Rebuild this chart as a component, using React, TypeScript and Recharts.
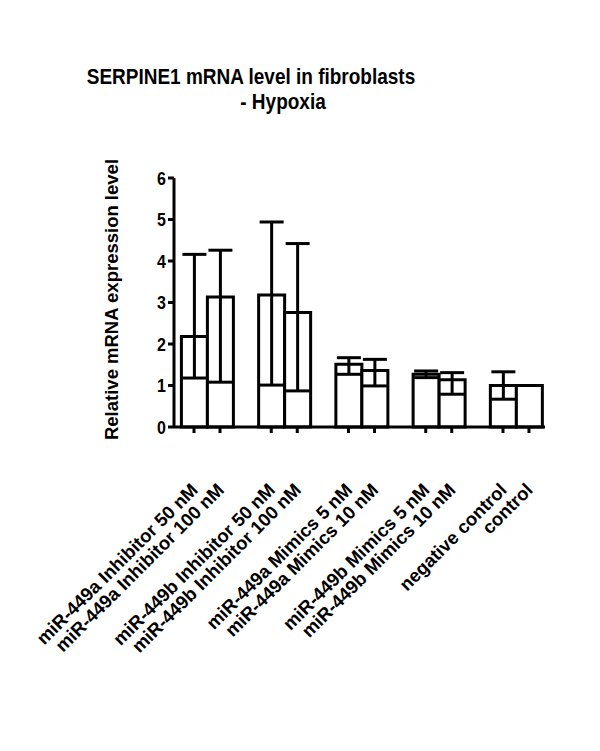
import { BarChart, Bar, XAxis, YAxis, ErrorBar } from 'recharts';

const FONT = '"Liberation Sans", Arial, Helvetica, sans-serif';

const labels = [
  'miR-449a Inhibitor 50 nM',
  'miR-449a Inhibitor 100 nM',
  'miR-449b Inhibitor 50 nM',
  'miR-449b Inhibitor 100 nM',
  'miR-449a Mimics 5 nM',
  'miR-449a Mimics 10 nM',
  'miR-449b Mimics 5 nM',
  'miR-449b Mimics 10 nM',
  'negative control',
  'control',
];
const means = [2.18, 3.13, 3.18, 2.76, 1.51, 1.36, 1.27, 1.14, 1.0, 1.0];
// bottom and top of the whiskers (control has none)
const lowers = [1.18, 1.08, 1.01, 0.87, 1.27, 0.99, 1.19, 0.79, 0.67, null];
const uppers = [4.16, 4.26, 4.94, 4.42, 1.67, 1.63, 1.35, 1.31, 1.33, null];
const groups = ['449a-inh', '449b-inh', '449a-mim', '449b-mim', 'ctrl'];
const yTicks = [0, 1, 2, 3, 4, 5, 6];

const errOf = (i: number) =>
  lowers[i] == null ? null : [means[i] - (lowers[i] as number), (uppers[i] as number) - means[i]];

const data = groups.map((g, k) => ({
  group: g,
  first: means[2 * k],
  second: means[2 * k + 1],
  firstErr: errOf(2 * k),
  secondErr: errOf(2 * k + 1),
  firstLabel: labels[2 * k],
  secondLabel: labels[2 * k + 1],
}));

const BAR = 26;

function GroupTick(props: any) {
  const { x, y, payload } = props;
  const row = data[payload.index];
  const items = [
    { cx: x - BAR / 2, text: row.firstLabel },
    { cx: x + BAR / 2, text: row.secondLabel },
  ];
  return (
    <g>
      {items.map((it) => {
        const tx = it.cx + 5;
        const ty = y + 64;
        return (
          <g key={it.text}>
            <line x1={it.cx} x2={it.cx} y1={y} y2={y + 6} stroke="#000" strokeWidth={3} />
            <text
              x={tx}
              y={ty}
              transform={`rotate(-45, ${tx}, ${ty})`}
              textAnchor="end"
              fontSize={18.5}
              fontWeight="bold"
              fontFamily={FONT}
              fill="#000"
            >
              {it.text}
            </text>
          </g>
        );
      })}
    </g>
  );
}

function ValueTick(props: any) {
  const { x, y, payload } = props;
  // the source picture is a little stretched vertically
  return (
    <g transform={`translate(${x}, ${y}) scale(1, 1.15)`}>
      <text x={0} y={0} dy="0.36em" textAnchor="end" fontSize={16} fontWeight="bold" fontFamily={FONT} fill="#000">
        {payload.value}
      </text>
    </g>
  );
}

function YTitle(props: any) {
  const vb = props.viewBox;
  const cx = vb.x + vb.width - 56.5;
  const cy = vb.y + vb.height / 2 - 3;
  return (
    <text
      x={cx}
      y={cy}
      transform={`rotate(-90, ${cx}, ${cy})`}
      textAnchor="middle"
      fontSize={18.5}
      fontWeight="bold"
      fontFamily={FONT}
      fill="#000"
    >
      Relative mRNA expression level
    </text>
  );
}

export default function App() {
  return (
    <div style={{ position: 'absolute', left: 0, top: 0, width: 600, height: 751, background: '#fff' }}>
      <BarChart
        width={600}
        height={751}
        data={data}
        margin={{ top: 178, right: 55, left: 0, bottom: 0 }}
        barGap={0}
        barSize={BAR}
      >
        <XAxis
          dataKey="group"
          height={324}
          interval={0}
          padding={{ left: -5.6, right: -9.6 }}
          stroke="#000"
          axisLine={{ stroke: '#000', strokeWidth: 3 }}
          tickLine={false}
          tickSize={0}
          tickMargin={0}
          tick={<GroupTick />}
        />
        <YAxis
          width={174}
          domain={[0, 6]}
          ticks={yTicks}
          interval={0}
          stroke="#000"
          axisLine={{ stroke: '#000', strokeWidth: 3 }}
          tickLine={{ stroke: '#000', strokeWidth: 3 }}
          tickSize={6}
          tickMargin={2}
          tick={<ValueTick />}
          label={<YTitle />}
        />
        <Bar dataKey="first" fill="#fff" stroke="#000" strokeWidth={3} isAnimationActive={false}>
          <ErrorBar dataKey="firstErr" width={12} strokeWidth={3} stroke="#000" direction="y" />
        </Bar>
        <Bar dataKey="second" fill="#fff" stroke="#000" strokeWidth={3} isAnimationActive={false}>
          <ErrorBar dataKey="secondErr" width={12} strokeWidth={3} stroke="#000" direction="y" />
        </Bar>
      </BarChart>
      <svg
        width={600}
        height={130}
        style={{ position: 'absolute', left: 0, top: 0, pointerEvents: 'none' }}
      >
        <g transform="translate(251, 84) scale(1, 1.2)">
          <text x={0} y={0} textAnchor="middle" fontSize={19} fontWeight="bold" fontFamily={FONT} fill="#000">
            SERPINE1 mRNA level in fibroblasts
          </text>
        </g>
        <g transform="translate(283, 109) scale(1, 1.2)">
          <text x={0} y={0} textAnchor="middle" fontSize={19} fontWeight="bold" fontFamily={FONT} fill="#000">
            - Hypoxia
          </text>
        </g>
      </svg>
    </div>
  );
}
